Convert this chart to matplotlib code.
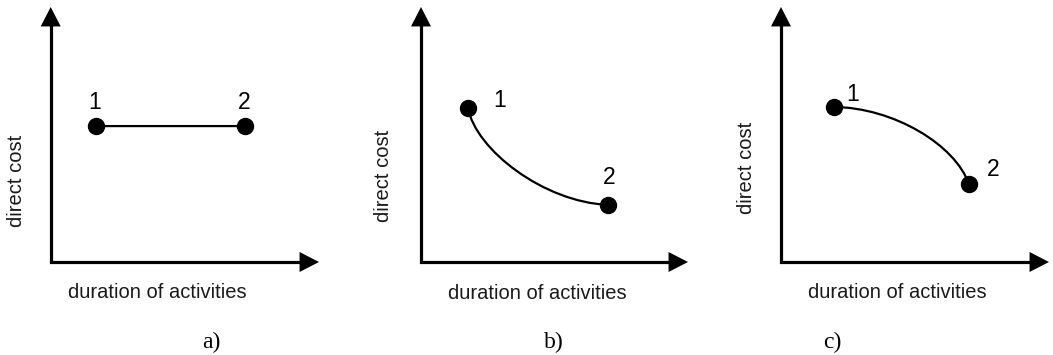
import matplotlib
matplotlib.use("Agg")
import matplotlib.pyplot as plt
from matplotlib.path import Path
from matplotlib.patches import PathPatch

# figure size in pixels
W, H = 1053, 355

# panel captions
panel_names = ["a)", "b)", "c)"]
x_label = "duration of activities"
y_label = "direct cost"

# points 1 and 2 of each panel (axis units, 0..10 from origin to arrow tip)
point1_x = [1.69, 1.76, 1.98]
point1_y = [5.33, 6.04, 6.08]
point2_x = [7.25, 7.00, 7.01]
point2_y = [5.33, 2.24, 3.06]

# bezier control points of the connecting curve (a is a straight line)
ctrl1_x = [3.5, 2.05, 4.2]
ctrl1_y = [5.33, 4.4, 6.05]
ctrl2_x = [5.4, 4.6, 6.5]
ctrl2_y = [5.33, 2.35, 4.6]

# position of the "1" / "2" labels
lab1_x = [1.65, 2.96, 2.69]
lab1_y = [6.24, 6.35, 6.55]
lab2_x = [7.21, 7.04, 7.91]
lab2_y = [6.24, 3.33, 3.61]

# layout: axis origin and arrow tips in pixels
origin_x = [50.7, 421, 781]
tip_x = [319, 688, 1049]
origin_y = 262
tip_y = 7

ylab_pos = [(-1.29, 3.2), (-1.42, 3.37), (-1.27, 3.7)]
xlab_pos = [(3.97, -1.18), (4.34, -1.22), (4.33, -1.18)]
cap_pos = [(6.0, -3.14), (4.98, -3.14), (1.9, -3.14)]

sans = "Liberation Sans"
serif = "Liberation Serif"

fig = plt.figure(figsize=(W / 100, H / 100), dpi=100)

for i in range(3):
    left = origin_x[i] / W
    bottom = (H - origin_y) / H
    width = (tip_x[i] - origin_x[i]) / W
    height = (origin_y - tip_y) / H
    ax = fig.add_axes([left, bottom, width, height])
    ax.set_xlim(0, 10)
    ax.set_ylim(0, 10)
    ax.axis("off")

    # axes drawn as an L with arrow heads
    ax.plot([0, 0, 9.6], [9.6, 0, 0], color="black", lw=2.3,
            solid_joinstyle="miter", solid_capstyle="butt", clip_on=False)
    arrow = dict(arrowstyle="-|>,head_length=0.7,head_width=0.36",
                 mutation_scale=20, lw=0, color="black", shrinkA=0, shrinkB=0)
    ax.annotate("", xy=(10, 0), xytext=(9, 0), arrowprops=arrow, annotation_clip=False)
    ax.annotate("", xy=(0, 10), xytext=(0, 9), arrowprops=arrow, annotation_clip=False)

    # curve between the two points
    verts = [(point1_x[i], point1_y[i]), (ctrl1_x[i], ctrl1_y[i]),
             (ctrl2_x[i], ctrl2_y[i]), (point2_x[i], point2_y[i])]
    codes = [Path.MOVETO, Path.CURVE4, Path.CURVE4, Path.CURVE4]
    ax.add_patch(PathPatch(Path(verts, codes), fill=False, lw=1.6,
                           edgecolor="black", clip_on=False))

    ax.plot([point1_x[i], point2_x[i]], [point1_y[i], point2_y[i]], "o",
            color="black", markersize=11.5, clip_on=False)

    ax.text(lab1_x[i], lab1_y[i], "1", fontsize=16.5, family=sans,
            ha="center", va="center")
    ax.text(lab2_x[i], lab2_y[i], "2", fontsize=16.5, family=sans,
            ha="center", va="center")

    ax.text(ylab_pos[i][0], ylab_pos[i][1], y_label, rotation=90, fontsize=14.5,
            family=sans, ha="center", va="center", color="#1a1a1a")
    ax.text(xlab_pos[i][0], xlab_pos[i][1], x_label, fontsize=14.5,
            family=sans, ha="center", va="center", color="#1a1a1a")
    ax.text(cap_pos[i][0], cap_pos[i][1], panel_names[i], fontsize=17,
            family=serif, ha="center", va="center")

fig.savefig("out.png", dpi=100)
